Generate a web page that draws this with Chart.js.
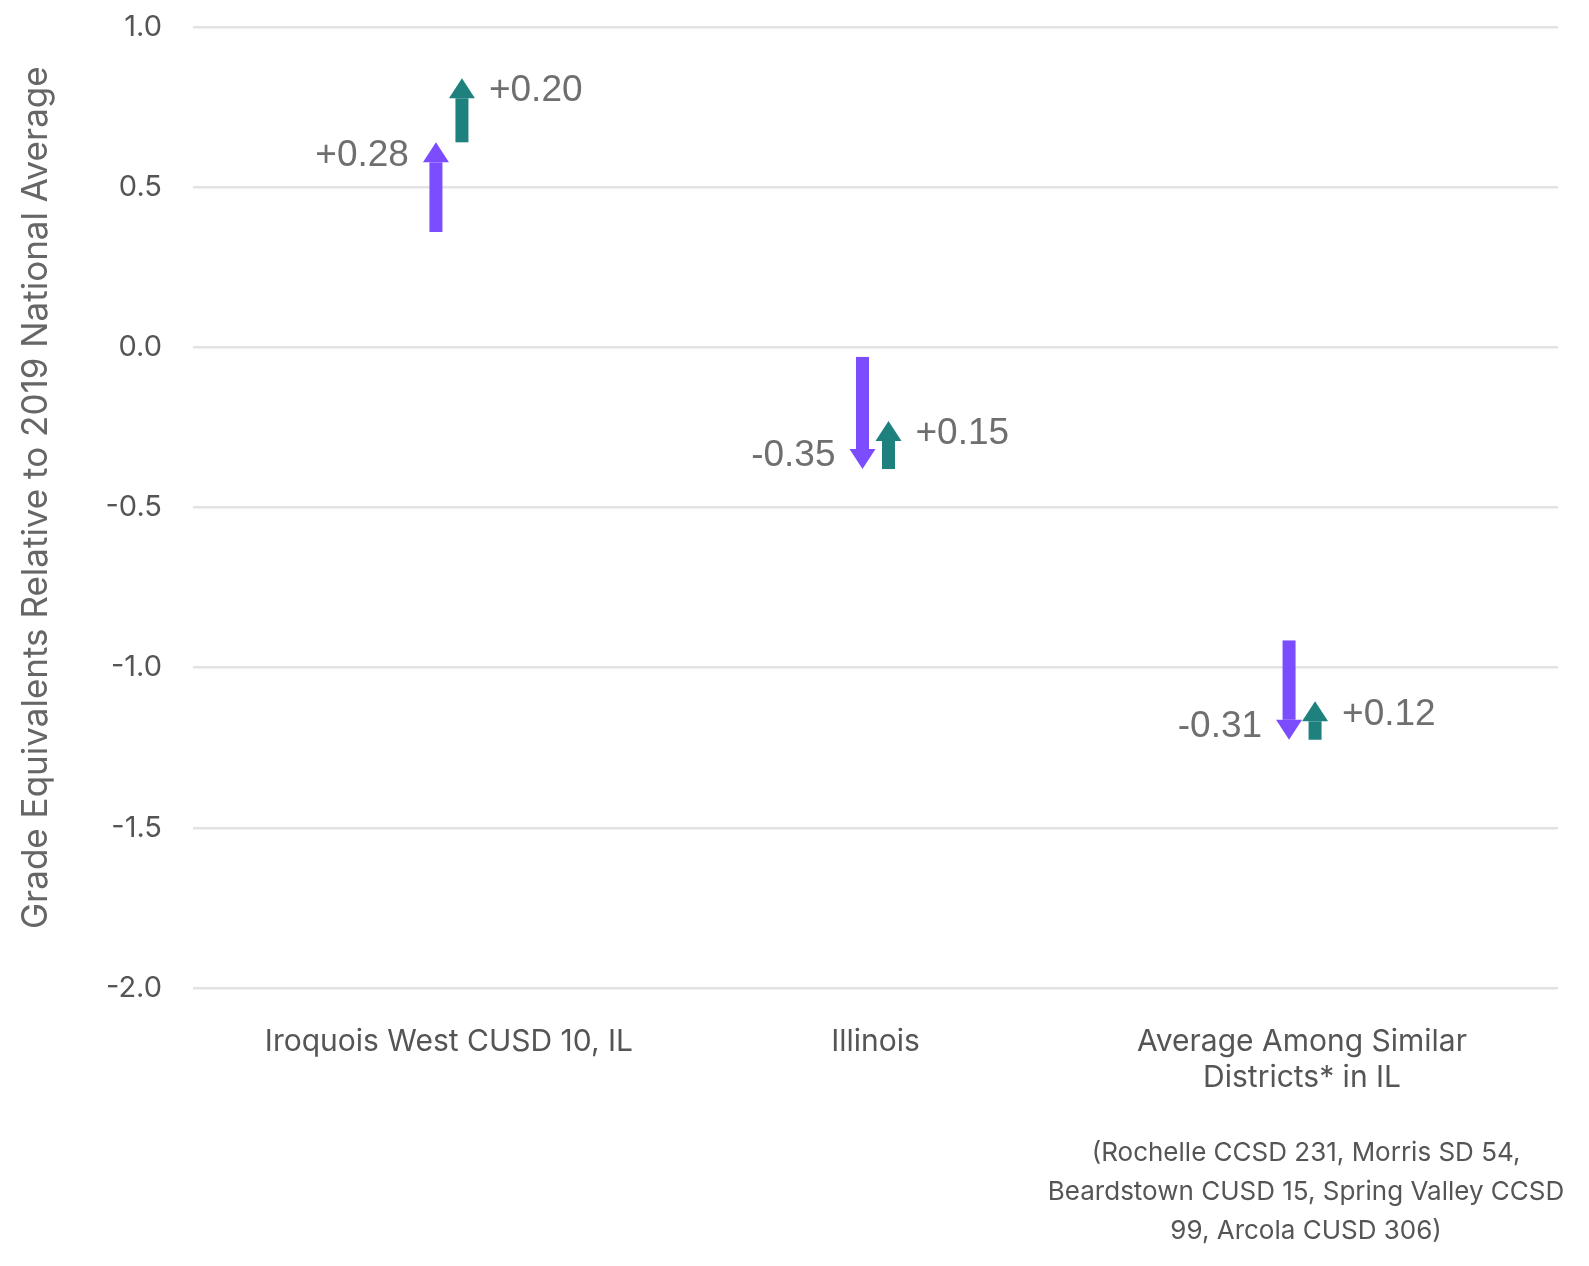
<!DOCTYPE html>
<html>
<head>
<meta charset="utf-8">
<script src="https://cdn.jsdelivr.net/npm/chart.js@4.4.1/dist/chart.umd.min.js"></script>
<style>
  html, body { margin: 0; background: #fff; }
  #wrap { width: 1589px; height: 1266px; }
</style>
</head>
<body>
<div id="wrap"><canvas id="chart"></canvas></div>
<script>
// categories along the bottom
var categories = [['Iroquois West CUSD 10, IL'], ['Illinois'], ['Average Among Similar', 'Districts* in IL']];
// where the purple arrow starts, then the two changes
var startValues = [0.36, -0.03, -0.915];
var purpleChange = [0.28, -0.35, -0.31];
var tealChange = [0.20, 0.15, 0.12];
var yTicks = [-2.0, -1.5, -1.0, -0.5, 0.0, 0.5, 1.0];
var note = ['(Rochelle CCSD 231, Morris SD 54,', 'Beardstown CUSD 15, Spring Valley CCSD', '99, Arcola CUSD 306)'];

var PURPLE = '#7c4dff';
var TEAL = '#1f817d';

function fmt(v) {
    return (v > 0 ? '+' : '') + v.toFixed(2);
}

var purplePts = startValues.map(function (s, i) {
    return { x: i, from: s, y: s + purpleChange[i], label: fmt(purpleChange[i]) };
});
var tealPts = startValues.map(function (s, i) {
    var b = s + purpleChange[i];
    return { x: i, from: b, y: b + tealChange[i], label: fmt(tealChange[i]) };
});

// draws each arrow (shaft + head) and its label from the scales
var arrowPlugin = {
    id: 'arrows',
    afterDatasetsDraw: function (chart) {
        var ctx = chart.ctx, xs = chart.scales.x, ys = chart.scales.y;
        chart.data.datasets.forEach(function (ds) {
            ds.data.forEach(function (p) {
                var x = xs.getPixelForValue(p.x) + ds.shift;
                var y0 = ys.getPixelForValue(p.from);
                var y1 = ys.getPixelForValue(p.y);
                var dir = y1 < y0 ? -1 : 1;
                var base = y1 - dir * 20;
                ctx.save();
                ctx.fillStyle = ds.arrowColor;
                ctx.fillRect(x - 6.5, Math.min(y0, base), 13, Math.abs(base - y0));
                ctx.beginPath();
                ctx.moveTo(x - 13, base);
                ctx.lineTo(x + 13, base);
                ctx.lineTo(x, y1);
                ctx.closePath();
                ctx.fill();
                ctx.font = '37px "Liberation Sans", Arial, sans-serif';
                ctx.fillStyle = '#6f6f6f';
                ctx.textBaseline = 'middle';
                ctx.textAlign = ds.shift < 0 ? 'right' : 'left';
                ctx.fillText(p.label, x + (ds.shift < 0 ? -27 : 27), y1 - dir * 13);
                ctx.restore();
            });
        });
    },
    afterDraw: function (chart) {
        var ctx = chart.ctx;
        var cx = chart.scales.x.getPixelForValue(2) + 4;
        var top = chart.chartArea.bottom;
        ctx.save();
        ctx.font = '26px Inter, sans-serif';
        ctx.fillStyle = '#555';
        ctx.textAlign = 'center';
        ctx.textBaseline = 'middle';
        note.forEach(function (line, i) {
            ctx.fillText(line, cx, top + 165 + i * 39);
        });
        ctx.restore();
    }
};

new Chart(document.getElementById('chart'), {
    type: 'line',
    data: {
        datasets: [{
            data: purplePts,
            shift: -13,
            arrowColor: PURPLE,
            showLine: false,
            pointRadius: 0
        }, {
            data: tealPts,
            shift: 13,
            arrowColor: TEAL,
            showLine: false,
            pointRadius: 0
        }]
    },
    options: {
        responsive: true,
        maintainAspectRatio: false,
        devicePixelRatio: 1,
        animation: false,
        layout: { padding: { top: 27, right: 31, left: 0, bottom: 0 } },
        plugins: { legend: { display: false }, tooltip: { enabled: false } },
        scales: {
            x: {
                type: 'linear',
                min: -0.6,
                max: 2.6,
                grid: { display: false },
                border: { display: false },
                afterBuildTicks: function (axis) {
                    axis.ticks = categories.map(function (c, i) { return { value: i }; });
                },
                afterFit: function (axis) { axis.height = 278; },
                ticks: {
                    maxRotation: 0,
                    autoSkip: false,
                    padding: 28,
                    color: '#555',
                    font: { family: 'Inter', size: 30 },
                    callback: function (v) { return categories[v]; }
                }
            },
            y: {
                min: -2,
                max: 1,
                afterBuildTicks: function (axis) {
                    axis.ticks = yTicks.map(function (v) { return { value: v }; });
                },
                afterFit: function (axis) {
                    axis.width = 193;
                    axis.paddingTop = 0;
                    axis.paddingBottom = 0;
                },
                grid: { color: '#e3e3e3', lineWidth: 2.5, drawTicks: false },
                border: { display: false },
                ticks: {
                    padding: 31,
                    color: '#555',
                    font: { family: 'Inter', size: 29 },
                    callback: function (v) { return v.toFixed(1); }
                },
                title: {
                    display: true,
                    text: '  Grade Equivalents Relative to 2019 National Average',
                    color: '#666',
                    font: { family: 'Inter', size: 35 },
                    padding: { top: 15, bottom: 0 }
                }
            }
        }
    },
    plugins: [arrowPlugin]
});
</script>
</body>
</html>
